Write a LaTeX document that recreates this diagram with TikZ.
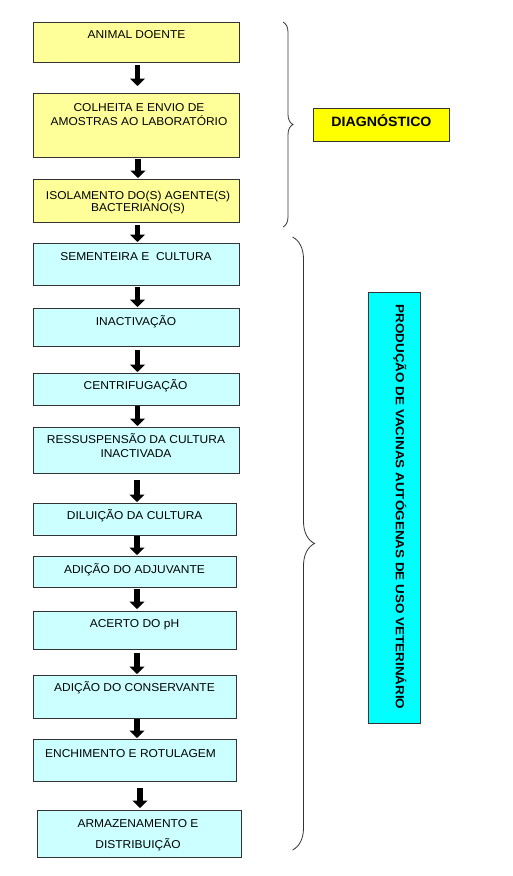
\documentclass[tikz,border=0pt]{standalone}
\usepackage{fontspec}
\setmainfont[FakeStretch=1.05]{Liberation Sans}
\newfontfamily\vertfont[FakeStretch=1.14]{Liberation Sans}
\usetikzlibrary{arrows.meta,decorations.pathreplacing}
\definecolor{boxyellow}{HTML}{FFFF99}
\definecolor{boxcyan}{HTML}{CCFFFF}
\definecolor{diagyellow}{HTML}{FFFF00}
\definecolor{prodcyan}{HTML}{00FFFF}
\definecolor{edgec}{HTML}{333333}
\newcommand\mylines[1]{\begin{tabular}{@{}c@{}}#1\end{tabular}}
\begin{document}
\begin{tikzpicture}[x=1pt,y=-1pt,
  box/.style={draw=edgec, line width=0.8pt, inner sep=0pt, outer sep=0pt, anchor=north west},
  ybox/.style={box, fill=boxyellow},
  cbox/.style={box, fill=boxcyan},
  txt/.style={anchor=north, inner sep=0pt, font=\fontsize{11.4}{13.4}\selectfont},
  barrow/.style={line width=5.5pt, black, -{Triangle[width=15pt,length=7.5pt]}},
  bracestyle/.style={decorate, decoration={brace, amplitude=#1}, line width=0.8pt, draw=black!80}
]
\useasboundingbox (0,0) rectangle (512,876);

% boxes
\node[ybox, minimum width=206pt, minimum height=40pt] (b1) at (33,22) {};
\node[ybox, minimum width=206pt, minimum height=64pt] (b2) at (33,93) {};
\node[ybox, minimum width=206pt, minimum height=43pt] (b3) at (33,179) {};
\node[cbox, minimum width=206pt, minimum height=42pt] (b4) at (33,243) {};
\node[cbox, minimum width=206pt, minimum height=38pt] (b5) at (33,308) {};
\node[cbox, minimum width=206pt, minimum height=32pt] (b6) at (33,373) {};
\node[cbox, minimum width=206pt, minimum height=46pt] (b7) at (33,427) {};
\node[cbox, minimum width=203pt, minimum height=32pt] (b8) at (33,503) {};
\node[cbox, minimum width=203pt, minimum height=31pt] (b9) at (33,556) {};
\node[cbox, minimum width=203pt, minimum height=38pt] (b10) at (33,611) {};
\node[cbox, minimum width=203pt, minimum height=43pt] (b11) at (33,675) {};
\node[cbox, minimum width=203pt, minimum height=42pt] (b12) at (33,739) {};
\node[cbox, minimum width=204pt, minimum height=47pt] (b13) at (37,810) {};

% texts
\node[txt] (t1) at (136.5,28.7) {\mylines{ANIMAL DOENTE}};
\node[txt] (t2) at (139,101.7) {\mylines{COLHEITA E ENVIO DE\\AMOSTRAS AO LABORATÓRIO}};
\node[txt] (t3) at (138,189.7) {\mylines{ISOLAMENTO DO(S) AGENTE(S)\\[-1.4pt]BACTERIANO(S)}};
\node[txt] (t4) at (136,250.7) {\mylines{SEMENTEIRA E~~CULTURA}};
\node[txt] (t5) at (136,315.7) {\mylines{INACTIVAÇÃO}};
\node[txt] (t6) at (135.5,379.7) {\mylines{CENTRIFUGAÇÃO}};
\node[txt] (t7) at (136,433.7) {\mylines{RESSUSPENSÃO DA CULTURA\\[0.6pt]INACTIVADA}};
\node[txt] (t8) at (134.7,509.7) {\mylines{DILUIÇÃO DA CULTURA}};
\node[txt] (t9) at (134.5,563.7) {\mylines{ADIÇÃO DO ADJUVANTE}};
\node[txt] (t10) at (134.5,617.7) {\mylines{ACERTO DO pH}};
\node[txt] (t11) at (134.5,681.7) {\mylines{ADIÇÃO DO CONSERVANTE}};
\node[txt] (t12) at (130.5,747.7) {\mylines{ENCHIMENTO E ROTULAGEM}};
\node[txt] (t13) at (138,817.7) {\mylines{ARMAZENAMENTO E\\[7.6pt]DISTRIBUIÇÃO}};

% arrows
\newcommand\arr[5]{\draw[barrow, shorten <=#3pt, shorten >=#4pt] ([xshift=#5pt]#2.north |- #1.south) -- ([xshift=#5pt]#2.north);}
\arr{b1}{b2}{3}{7}{1.5}
\arr{b2}{b3}{2}{1}{2}
\arr{b3}{b4}{3}{1}{1.5}
\arr{b4}{b5}{2}{1}{1.5}
\arr{b5}{b6}{4}{1}{1.5}
\arr{b6}{b7}{1}{1}{1.5}
\arr{b7}{b8}{7}{1}{2.5}
\arr{b8}{b9}{1}{1}{2.5}
\arr{b9}{b10}{2}{2}{2.5}
\arr{b10}{b11}{4}{1}{2.5}
\arr{b11}{b12}{1}{1}{2.5}
\arr{b12}{b13}{7}{2}{1}

% side labels
\node[box, fill=diagyellow, minimum width=136pt, minimum height=33pt] (diag) at (313,108) {};
\node[anchor=base, inner sep=0pt, font=\bfseries\fontsize{13.5}{16}\selectfont] (diagt) at (381.5,126.5) {DIAGNÓSTICO};
\node[box, fill=prodcyan, minimum width=52pt, minimum height=431pt] (prod) at (368,292) {};
\node[anchor=base, inner sep=0pt, rotate=-90, font=\vertfont\bfseries\fontsize{11.8}{14}\selectfont] (prodt) at (395.8,507) {PRODUÇÃO DE VACINAS AUTÓGENAS DE USO VETERINÁRIO};

% braces
\coordinate (br1a) at (283,22);
\coordinate (br1b) at (283,227);
\coordinate (br2a) at (292.5,237);
\coordinate (br2b) at (292.5,850);
\draw[bracestyle=10pt] (br1a) -- (br1b);
\draw[bracestyle=22pt] (br2a) -- (br2b);
\end{tikzpicture}
\end{document}
